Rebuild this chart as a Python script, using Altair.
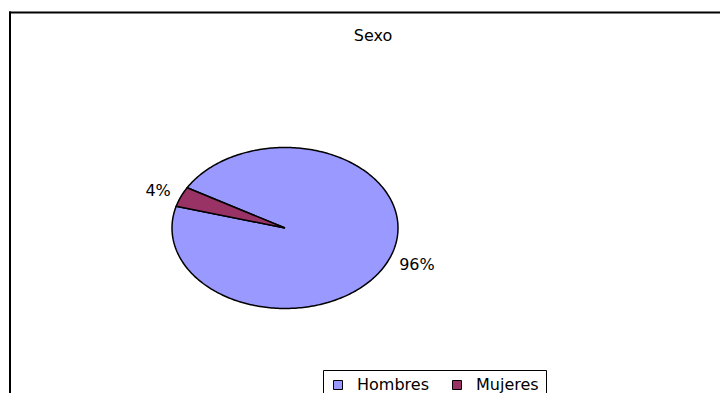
import altair as alt
import numpy as np
import pandas as pd

# ---- data ----
categories = ["Hombres", "Mujeres"]
values = [96, 4]
labels = ["96%", "4%"]
colors = ["#9999FF", "#993366"]
title_text = ["Sexo"]

# ---- layout constants ----
W, H = 712, 385
CX, CY = 277.0, 220.0      # pie centre (chart units = px)
RX, RY = 113.0, 80.5       # ellipse radii
START = 300.0              # angle of first slice, clockwise from 12 o'clock
FONT = "DejaVu Sans"

rows, lab_rows = [], []
total = float(sum(values))
a0 = START
for cat, v, lab in zip(categories, values, labels):
    sweep = 360.0 * v / total
    n = max(int(np.ceil(sweep)), 2)
    angs = np.radians(np.linspace(a0, a0 + sweep, n + 1))
    pts = [(CX, CY)] + [(CX + RX * np.sin(a), CY - RY * np.cos(a)) for a in angs] + [(CX, CY)]
    for i, (x, y) in enumerate(pts):
        rows.append({"cat": cat, "i": i, "x": float(x), "y": float(y)})
    mid = np.radians(a0 + sweep / 2)
    s, c = np.sin(mid), np.cos(mid)
    lab_rows.append({
        "label": lab,
        "x": float(CX + RX * s + (10 if s > 0 else -10)),
        "y": float(CY - RY * c - 15 * c),
        "side": "left" if s > 0 else "right",
    })
    a0 += sweep

pie_df = pd.DataFrame(rows)
lab_df = pd.DataFrame(lab_rows)

xs = alt.Scale(domain=[0, W], nice=False, zero=False)
ys = alt.Scale(domain=[0, H], reverse=True, nice=False, zero=False)

pie = alt.Chart(pie_df).mark_line(stroke="black", strokeWidth=1.5, strokeJoin="round").encode(
    x=alt.X("x:Q", scale=xs, axis=None),
    y=alt.Y("y:Q", scale=ys, axis=None),
    order="i:Q",
    detail="cat:N",
    fill=alt.Fill(
        "cat:N",
        scale=alt.Scale(domain=categories, range=colors),
        legend=alt.Legend(
            title=None,
            orient="none",
            legendX=315,
            legendY=362,
            direction="horizontal",
            symbolType="square",
            symbolSize=81,
            symbolStrokeColor="black",
            symbolStrokeWidth=1,
            symbolOpacity=1,
            labelFont=FONT,
            labelFontSize=16,
            labelColor="black",
            labelOffset=11,
            columnPadding=20,
            padding=7,
            strokeColor="black",
            fillColor="white",
        ),
    ),
)

lab_left = alt.Chart(lab_df).transform_filter(alt.datum.side == "left").mark_text(
    align="left", baseline="middle", font=FONT, fontSize=16, color="black"
).encode(x=alt.X("x:Q", scale=xs), y=alt.Y("y:Q", scale=ys), text="label:N")

lab_right = alt.Chart(lab_df).transform_filter(alt.datum.side == "right").mark_text(
    align="right", baseline="middle", font=FONT, fontSize=16, color="black"
).encode(x=alt.X("x:Q", scale=xs), y=alt.Y("y:Q", scale=ys), text="label:N")

title = alt.Chart(pd.DataFrame({"t": title_text})).mark_text(
    align="center", baseline="middle", font=FONT, fontSize=16, color="black"
).encode(x=alt.value(365), y=alt.value(28), text="t:N")

frame_top = alt.Chart(pd.DataFrame({"a": [0]})).mark_rule(color="black", strokeWidth=2).encode(
    x=alt.value(1), x2=alt.value(W), y=alt.value(4.5)
)
frame_left = alt.Chart(pd.DataFrame({"a": [0]})).mark_rule(color="black", strokeWidth=2).encode(
    x=alt.value(2), y=alt.value(3.5), y2=alt.value(H)
)

chart = alt.layer(frame_top, frame_left, pie, lab_left, lab_right, title).properties(
    width=W, height=H, padding=0, autosize=alt.AutoSizeParams(type="none"), background="white"
).configure_view(stroke=None)

chart.save("out.html", embed_options={"renderer": "svg", "actions": False})
